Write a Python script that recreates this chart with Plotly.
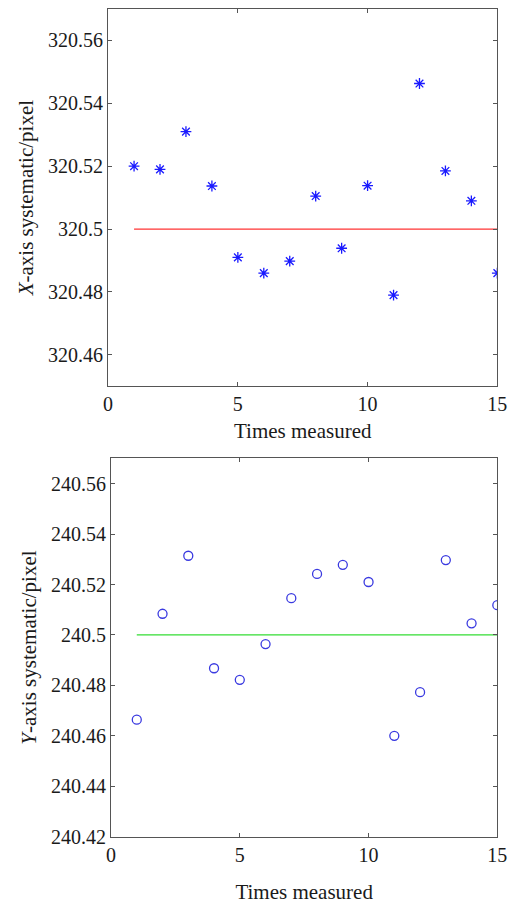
import plotly.graph_objects as go

times = list(range(1, 16))
x_sys = [320.520, 320.519, 320.531, 320.5137, 320.491, 320.486, 320.4898, 320.5105,
         320.4939, 320.5138, 320.479, 320.5463, 320.5185, 320.509, 320.486]
y_sys = [240.4664, 240.5084, 240.5314, 240.4868, 240.4822, 240.4964, 240.5146, 240.5242,
         240.5278, 240.521, 240.460, 240.4773, 240.5297, 240.5046, 240.5118]
x_ref = 320.5
y_ref = 240.5
x_ticks = [320.46, 320.48, 320.5, 320.52, 320.54, 320.56]
x_ticklabels = ["320.46", "320.48", "320.5", "320.52", "320.54", "320.56"]
y_ticks = [240.42, 240.44, 240.46, 240.48, 240.5, 240.52, 240.54, 240.56]
y_ticklabels = ["240.42", "240.44", "240.46", "240.48", "240.5", "240.52", "240.54", "240.56"]
t_ticks = [0, 5, 10, 15]

# page body has an 8px default margin on every side; size the figure to fit inside
OFF = 8
W, H = 526 - 2 * OFF, 913 - 2 * OFF
FONT = "Liberation Serif"


def px_x(v):
    return (v - OFF) / W


def px_y(v):
    return 1 - (v - OFF) / H


fig = go.Figure()
fig.add_trace(go.Scatter(x=times, y=x_sys, mode="markers", xaxis="x", yaxis="y",
                         marker=dict(symbol="asterisk-open", size=9, color="#1a1aff",
                                     line=dict(color="#1a1aff", width=1.3)),
                         showlegend=False))
fig.add_trace(go.Scatter(x=[times[0], times[-1]], y=[x_ref, x_ref], mode="lines",
                         xaxis="x", yaxis="y", line=dict(color="#ff3333", width=1.2),
                         showlegend=False))
fig.add_trace(go.Scatter(x=times, y=y_sys, mode="markers", xaxis="x2", yaxis="y2",
                         marker=dict(symbol="circle-open", size=9, color="#3a3ae0",
                                     line=dict(color="#3a3ae0", width=1.3)),
                         showlegend=False))
fig.add_trace(go.Scatter(x=[times[0], times[-1]], y=[y_ref, y_ref], mode="lines",
                         xaxis="x2", yaxis="y2", line=dict(color="#33dd33", width=1.2),
                         showlegend=False))

axis_common = dict(showline=True, linecolor="#555", linewidth=1, mirror="ticks",
                   ticks="inside", ticklen=4, tickcolor="#555", showgrid=False,
                   zeroline=False,
                   tickfont=dict(family=FONT, size=20, color="#1a1a1a"))
title_font = dict(family=FONT, size=21, color="#1a1a1a")

fig.update_layout(
    width=W, height=H, margin=dict(l=0, r=0, t=0, b=0),
    paper_bgcolor="white", plot_bgcolor="white",
    font=dict(family=FONT, color="#1a1a1a"),
    xaxis=dict(domain=[px_x(106), px_x(507)], range=[0, 15], tickvals=t_ticks,
               anchor="y",
               title=dict(text="Times measured", font=title_font, standoff=8),
               **axis_common),
    yaxis=dict(domain=[px_y(391), px_y(9)], range=[320.45, 320.57], anchor="x",
               tickvals=x_ticks, ticktext=x_ticklabels,
               title=dict(text="<i>X</i>-axis systematic/pixel", font=title_font,
                          standoff=8),
               **axis_common),
    xaxis2=dict(domain=[px_x(109), px_x(507)], range=[0, 15], tickvals=t_ticks,
                anchor="y2",
                title=dict(text="Times measured", font=title_font, standoff=19),
                **axis_common),
    yaxis2=dict(domain=[px_y(847), px_y(464)], range=[240.42, 240.57], anchor="x2",
                tickvals=y_ticks, ticktext=y_ticklabels,
                title=dict(text="<i>Y</i>-axis systematic/pixel", font=title_font,
                           standoff=8),
                **axis_common),
)

fig.write_html("out.html", config={"displayModeBar": False})
